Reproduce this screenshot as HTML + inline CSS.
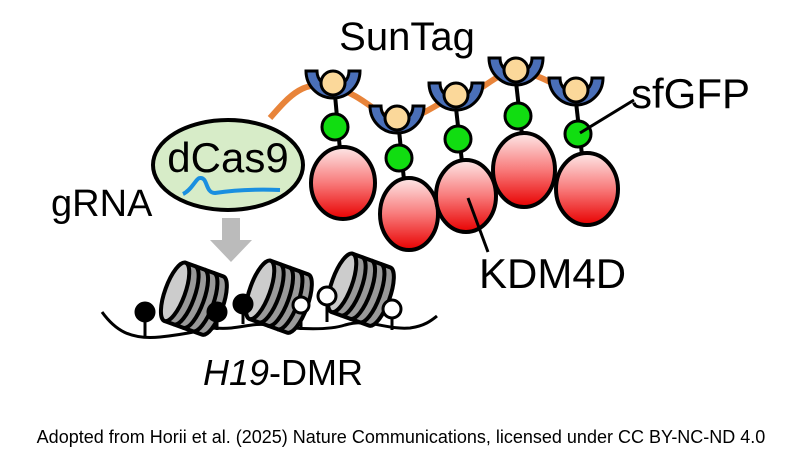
<!DOCTYPE html>
<html><head><meta charset="utf-8"><style>
html,body{margin:0;padding:0;background:#fff}
svg{display:block}
text{font-family:"Liberation Sans",Arial,sans-serif}
</style></head><body>
<svg width="803" height="451" viewBox="0 0 803 451" xmlns="http://www.w3.org/2000/svg">
<defs>
<linearGradient id="rg" x1="0" y1="0" x2="0" y2="1">
<stop offset="0" stop-color="#fde8e8"/><stop offset="0.5" stop-color="#f87a7a"/><stop offset="1" stop-color="#e80000"/>
</linearGradient>
<g id="nuc">
<path d="M-18,-31 L22,-31 A10,31 0 0 1 22,31 L-18,31 Z" fill="#999" stroke="#000" stroke-width="4" stroke-linejoin="round"/>
<g stroke="#000" stroke-width="4" fill="none">
<path d="M-8,-31 A10,31 0 0 1 -8,31"/>
<path d="M2,-31 A10,31 0 0 1 2,31"/>
<path d="M12,-31 A10,31 0 0 1 12,31"/>
</g>
<ellipse cx="-18" cy="0" rx="10" ry="31" fill="#ccc" stroke="#000" stroke-width="4"/>
</g>
</defs>
<text x="407" y="50" font-size="40" text-anchor="middle">SunTag</text>
<path d="M270,118 C290,95 305,78 335,88 C365,95 380,120 400,120 C425,118 440,98 458,98 C480,96 495,70 518,72 C545,74 560,92 578,92" fill="none" stroke="#e8843a" stroke-width="6"/>
<ellipse cx="228" cy="165" rx="75" ry="45" fill="#d7ecc8" stroke="#000" stroke-width="4"/>
<text x="228" y="172" font-size="42" text-anchor="middle">dCas9</text>
<path d="M183,194 C192,190 196,178 200,178 C208,177 205,193 215,193 C235,190 255,189 280,190" fill="none" stroke="#1a8fe0" stroke-width="4"/>
<text x="51" y="216" font-size="38">gRNA</text>
<path d="M222,218 h18 v22 h12 l-21,22 l-21,-22 h12z" fill="#bbb"/>
<g stroke="#000" stroke-width="4">
<line x1="335" y1="95" x2="340" y2="150"/><line x1="399" y1="130" x2="404" y2="180"/><line x1="456" y1="108" x2="462" y2="162"/><line x1="516" y1="82" x2="522" y2="135"/><line x1="576" y1="102" x2="582" y2="155"/>
</g>
<g stroke="#000" stroke-width="4" fill="url(#rg)">
<ellipse cx="343" cy="183" rx="32" ry="36"/>
<ellipse cx="409" cy="214" rx="29" ry="36"/>
<ellipse cx="466" cy="196" rx="30" ry="36"/>
<ellipse cx="524" cy="170" rx="31" ry="37"/>
<ellipse cx="587" cy="189" rx="31" ry="36"/>
</g>
<g stroke="#000" stroke-width="3" fill="#11dd11">
<circle cx="335" cy="127" r="13"/><circle cx="399" cy="158" r="13"/><circle cx="458" cy="139" r="13"/><circle cx="518" cy="116" r="13"/><circle cx="578" cy="134" r="13"/>
</g>
<g stroke="#000" stroke-width="3">
<g transform="translate(333,80)"><path d="M-27,-9 A27,27 0 0 0 27,-9 L16,-9 A16,16 0 0 1 -16,-9Z" fill="#4a6fb8"/><circle cx="0" cy="3" r="12" fill="#fbd89a"/></g>
<g transform="translate(397,115)"><path d="M-27,-9 A27,27 0 0 0 27,-9 L16,-9 A16,16 0 0 1 -16,-9Z" fill="#4a6fb8"/><circle cx="0" cy="3" r="12" fill="#fbd89a"/></g>
<g transform="translate(456,92)"><path d="M-27,-9 A27,27 0 0 0 27,-9 L16,-9 A16,16 0 0 1 -16,-9Z" fill="#4a6fb8"/><circle cx="0" cy="3" r="12" fill="#fbd89a"/></g>
<g transform="translate(516,67)"><path d="M-27,-9 A27,27 0 0 0 27,-9 L16,-9 A16,16 0 0 1 -16,-9Z" fill="#4a6fb8"/><circle cx="0" cy="3" r="12" fill="#fbd89a"/></g>
<g transform="translate(576,87)"><path d="M-27,-9 A27,27 0 0 0 27,-9 L16,-9 A16,16 0 0 1 -16,-9Z" fill="#4a6fb8"/><circle cx="0" cy="3" r="12" fill="#fbd89a"/></g>
</g>
<line x1="580" y1="133" x2="634" y2="100" stroke="#000" stroke-width="3"/>
<text x="631" y="108" font-size="42">sfGFP</text>
<line x1="468" y1="198" x2="488" y2="252" stroke="#000" stroke-width="3"/>
<text x="479" y="288" font-size="42">KDM4D</text>
<path d="M102,312 C115,330 130,340 160,337 C190,334 200,330 215,328 C240,330 250,322 270,325 C300,330 330,330 345,325 C370,318 385,330 410,328 C425,326 432,320 437,316" fill="none" stroke="#000" stroke-width="3"/>
<g stroke="#000" stroke-width="3">
<line x1="145" y1="318" x2="145" y2="336"/><line x1="217" y1="313" x2="217" y2="330"/><line x1="243" y1="305" x2="243" y2="324"/>
<line x1="301" y1="309" x2="301" y2="330"/><line x1="327" y1="300" x2="327" y2="322"/><line x1="392" y1="312" x2="392" y2="330"/>
</g>
<use href="#nuc" transform="translate(192,298) rotate(20)"/>
<use href="#nuc" transform="translate(277,296) rotate(20)"/>
<use href="#nuc" transform="translate(359,289) rotate(20)"/>
<g stroke="#000" stroke-width="3">
<circle cx="145" cy="312" r="9" fill="#000"/><circle cx="217" cy="312" r="9" fill="#000"/><circle cx="243" cy="304" r="9" fill="#000"/>
<circle cx="301" cy="305" r="8" fill="#fff"/><circle cx="327" cy="296" r="9" fill="#fff"/><circle cx="392" cy="309" r="9" fill="#fff"/>
</g>
<text x="283" y="385" font-size="36" text-anchor="middle"><tspan font-style="italic">H19</tspan>-DMR</text>
<text x="401" y="443" font-size="18" text-anchor="middle">Adopted from Horii et al. (2025) Nature Communications, licensed under CC BY-NC-ND 4.0</text>
</svg>
</body></html>
